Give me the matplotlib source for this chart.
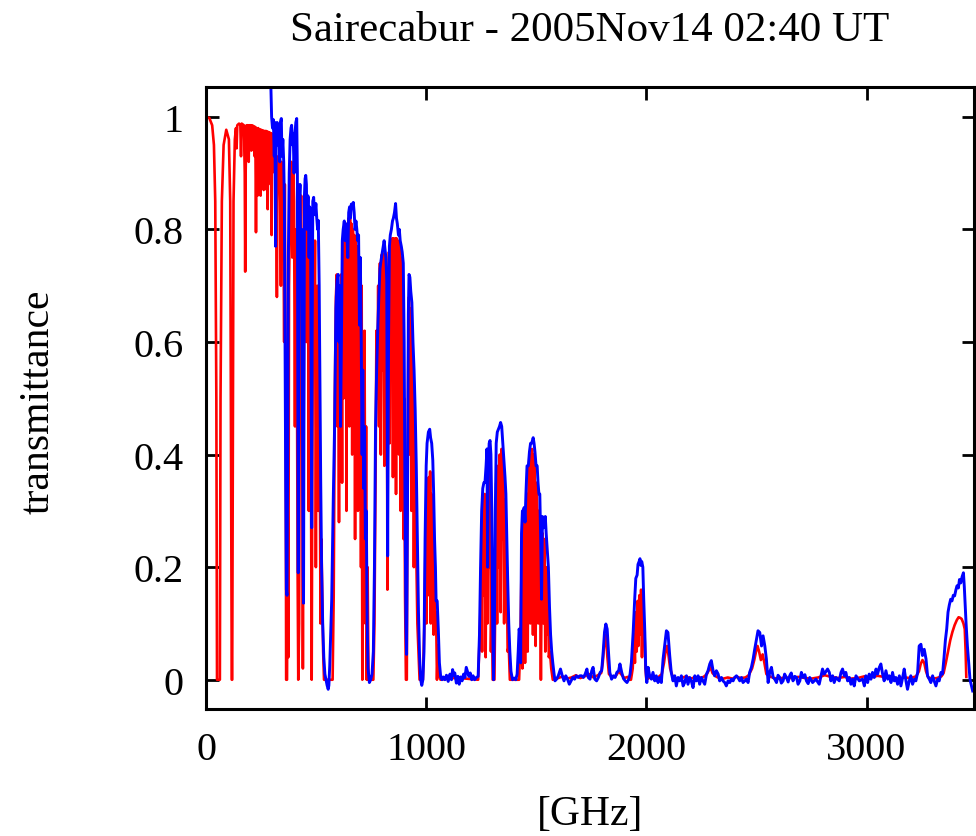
import matplotlib
matplotlib.use("Agg")
import matplotlib.pyplot as plt

plt.rcParams['font.family'] = ['Liberation Serif', 'DejaVu Serif']

# ATM model transmittance (red)
red_ghz = [0, 15, 28, 36, 42, 47, 50, 63, 66, 72, 80, 92, 104, 110, 115, 117, 119, 121, 125, 131,
           136, 139, 142, 150, 156, 159, 162, 172, 176, 178, 180, 184, 192, 194, 196, 203, 206, 209, 218, 221,
           224, 227, 230, 234, 237, 241, 244, 248, 251, 255, 258, 262, 265, 269, 272, 276, 278, 280, 283, 287,
           290, 294, 296, 298, 300, 305, 308, 313, 316, 320, 322, 324, 328,
           330, 336, 340, 343, 350, 355, 358, 362, 364, 368, 371, 374, 377, 382, 388, 392, 396, 400, 404, 407,
           412, 416, 419, 423, 427, 432, 436, 440, 444, 448, 452, 456, 459, 463, 467, 470, 474, 477, 480, 483,
           487, 491, 495, 499, 502, 506, 510, 513, 517, 520, 524, 528, 532, 536, 570,
           575, 580, 585, 590, 594, 597, 600, 604, 607, 611, 614, 618, 621, 625, 628, 632, 635, 638, 641, 645,
           648, 651, 654, 658, 661, 664, 667, 671, 674, 677, 680, 684, 687, 690, 693, 697, 700, 704, 707, 710,
           713, 717, 720, 724, 727, 730, 734, 738,
           760, 765, 770, 774, 778, 782, 786, 790, 794, 798, 802, 806, 810, 813, 817, 821, 824, 827, 831, 834,
           838, 842, 846, 849, 852, 856, 860, 863, 866, 870, 874, 877, 880, 884, 887, 891, 894, 897, 900, 904,
           908, 912, 915, 919, 922, 926, 929, 933, 936, 940, 944, 948, 952, 956, 960, 965, 970,
           985, 992, 997, 1001, 1005, 1008, 1012, 1015, 1018, 1021, 1024, 1027, 1030, 1034, 1037, 1041, 1045,
           1049, 1053, 1058, 1065, 1120, 1180,
           1236, 1245, 1250, 1254, 1258, 1262, 1266, 1270, 1274, 1278, 1282, 1286, 1290, 1294, 1298, 1302, 1310,
           1314, 1318, 1322, 1326, 1330, 1334, 1338, 1342, 1346, 1350, 1354, 1358, 1362, 1366, 1370, 1375, 1380,
           1422, 1428, 1433, 1437, 1441, 1445, 1449, 1453, 1457, 1461, 1465, 1469, 1473, 1477, 1481, 1485, 1489,
           1493, 1497, 1501, 1505, 1509, 1513, 1517, 1521, 1525, 1529, 1533, 1537, 1541, 1545, 1549, 1553, 1557,
           1562, 1568, 1575,
           1600, 1620, 1640, 1660, 1680, 1700, 1720, 1740, 1760, 1780, 1795, 1802, 1808, 1813, 1818, 1823, 1830,
           1845, 1860, 1875, 1885, 1900, 1915, 1925,
           1930, 1938, 1944, 1948, 1952, 1956, 1960, 1964, 1968, 1972, 1976, 1980, 1984, 1988, 1992, 1996, 2000,
           2015, 2030, 2050, 2070, 2080, 2087, 2094, 2100, 2108, 2120, 2140, 2160, 2180, 2200, 2220, 2240, 2260,
           2275, 2285, 2292, 2300, 2315, 2330, 2350, 2370, 2390, 2410, 2430, 2450, 2465, 2480, 2490, 2498, 2505,
           2512, 2520, 2528, 2536, 2545, 2560, 2580, 2600, 2630, 2660, 2690, 2720, 2750, 2780, 2810, 2840, 2870,
           2900, 2930, 2960, 2990, 3020, 3050, 3080, 3110, 3140, 3170, 3200, 3225, 3238, 3246, 3254, 3262, 3270,
           3280, 3300, 3320, 3340, 3350, 3360, 3370, 3380, 3390, 3400, 3410, 3418, 3425, 3432, 3440, 3446, 3450,
           3453]
red_tr = [1.0, 0.998, 0.985, 0.95, 0.85, 0.5, 0.0, 0.0, 0.5, 0.85, 0.95, 0.977, 0.96, 0.85, 0.2, 0.0, 0.0, 0.3, 0.85, 0.96,
          0.98, 0.944, 0.985, 0.988, 0.985, 0.93, 0.988, 0.985, 0.9, 0.725, 0.9, 0.985, 0.985, 0.92, 0.985, 0.985, 0.94, 0.985, 0.983, 0.93,
          0.982, 0.795, 0.98, 0.86, 0.98, 0.9, 0.978, 0.86, 0.977, 0.89, 0.976, 0.87, 0.975, 0.9, 0.975, 0.87, 0.974, 0.836, 0.973, 0.9,
          0.972, 0.88, 0.97, 0.79, 0.97, 0.92, 0.965, 0.9, 0.96, 0.8, 0.68, 0.85, 0.93,
          0.93, 0.9, 0.7, 0.92, 0.9, 0.6, 0.88, 0.5, 0.0, 0.0, 0.3, 0.04, 0.7, 0.85, 0.92, 0.75, 0.91, 0.85, 0.45, 0.8,
          0.7, 0.2, 0.0, 0.1, 0.75, 0.86, 0.6, 0.02, 0.5, 0.84, 0.87, 0.6, 0.83, 0.8, 0.3, 0.8, 0.82, 0.35, 0.0, 0.4,
          0.78, 0.6, 0.78, 0.2, 0.55, 0.7, 0.3, 0.5, 0.4, 0.1, 0.25, 0.15, 0.05, 0.0, 0.0,
          0.0, 0.15, 0.5, 0.68, 0.72, 0.45, 0.7, 0.28, 0.68, 0.55, 0.72, 0.35, 0.76, 0.5, 0.8, 0.62, 0.81, 0.3, 0.8, 0.55,
          0.82, 0.45, 0.82, 0.6, 0.81, 0.4, 0.8, 0.55, 0.79, 0.25, 0.78, 0.5, 0.77, 0.3, 0.76, 0.5, 0.74, 0.2, 0.7, 0.0,
          0.6, 0.5, 0.62, 0.1, 0.45, 0.0, 0.2, 0.0,
          0.0, 0.1, 0.35, 0.62, 0.5, 0.7, 0.45, 0.74, 0.4, 0.755, 0.55, 0.757, 0.38, 0.74, 0.6, 0.68, 0.16, 0.6, 0.76, 0.42,
          0.78, 0.55, 0.784, 0.36, 0.784, 0.6, 0.784, 0.33, 0.784, 0.55, 0.78, 0.4, 0.77, 0.3, 0.75, 0.5, 0.7, 0.25, 0.5, 0.15,
          0.0, 0.0, 0.35, 0.6, 0.68, 0.4, 0.66, 0.3, 0.6, 0.55, 0.2, 0.45, 0.3, 0.2, 0.1, 0.05, 0.0,
          0.0, 0.1, 0.25, 0.1, 0.3, 0.15, 0.36, 0.2, 0.37, 0.1, 0.33, 0.2, 0.28, 0.08, 0.2, 0.1, 0.12,
          0.0, 0.06, 0.01, 0.0, 0.003, 0.002,
          0.0, 0.1, 0.2, 0.05, 0.3, 0.15, 0.33, 0.04, 0.3, 0.1, 0.35, 0.2, 0.38, 0.05, 0.15, 0.0, 0.0,
          0.15, 0.35, 0.1, 0.38, 0.2, 0.4, 0.12, 0.41, 0.25, 0.39, 0.1, 0.32, 0.15, 0.2, 0.05, 0.06, 0.0,
          0.0, 0.07, 0.2, 0.02, 0.28, 0.3, 0.03, 0.2, 0.33, 0.05, 0.36, 0.4, 0.1, 0.38, 0.41, 0.08, 0.4,
          0.38, 0.06, 0.35, 0.3, 0.1, 0.3, 0.2, 0.0, 0.2, 0.26, 0.1, 0.25, 0.05, 0.2, 0.08, 0.15, 0.04,
          0.05, 0.02, 0.0,
          0.003, 0.006, 0.002, 0.004, 0.008, 0.003, 0.006, 0.01, 0.004, 0.008, 0.012, 0.03, 0.06, 0.08, 0.07, 0.04, 0.01,
          0.004, 0.006, 0.015, 0.01, 0.003, 0.005, 0.0,
          0.0, 0.02, 0.08, 0.03, 0.12, 0.05, 0.14, 0.06, 0.15, 0.08, 0.16, 0.04, 0.15, 0.1, 0.08, 0.02, 0.0,
          0.004, 0.002, 0.003, 0.01, 0.03, 0.05, 0.06, 0.045, 0.02, 0.005, 0.002, 0.003, 0.006, 0.002, 0.004, 0.003, 0.005,
          0.01, 0.018, 0.022, 0.012, 0.006, 0.003, 0.002, 0.004, 0.002, 0.005, 0.003, 0.004, 0.008, 0.02, 0.035, 0.05, 0.06,
          0.05, 0.035, 0.045, 0.03, 0.01, 0.006, 0.003, 0.002, 0.004, 0.003, 0.005, 0.003, 0.002, 0.004, 0.008, 0.005, 0.003,
          0.005, 0.002, 0.003, 0.006, 0.004, 0.007, 0.005, 0.003, 0.002, 0.004, 0.003, 0.006, 0.015, 0.028, 0.035, 0.03, 0.015,
          0.004, 0.002, 0.003, 0.006, 0.012, 0.03, 0.05, 0.07, 0.085, 0.097, 0.106, 0.111, 0.11, 0.108, 0.1, 0.09, 0.05,
          0.005]

# FTS measured transmittance (blue)
blue_ghz = [293, 298, 302, 306, 310, 313, 316, 319, 323, 327, 331, 335, 338, 342, 345, 349, 353, 356, 359, 362,
            365, 368, 371, 374, 378, 382, 386, 389, 393, 396, 400, 404, 408, 412, 415, 417, 419, 421, 424, 427,
            431, 435, 439, 441, 443, 445, 447, 450, 453, 456, 459, 462, 465, 468, 471, 475, 478, 480, 482, 485,
            489, 492, 495, 499, 503, 507, 510, 514, 517, 521, 525, 530, 535, 540, 545, 550, 555, 558, 562, 566,
            571, 578, 584, 590, 595, 600, 604, 607, 611, 615, 619, 623, 628, 632, 636, 640, 644, 648, 652, 656,
            660, 665, 669, 673, 677, 681, 685, 689, 693, 697, 701, 705, 709, 712, 716, 720, 724, 728, 732, 736,
            742, 748, 754, 760, 765, 770, 775, 780, 785, 790, 795, 800, 805, 809, 813, 817, 821, 825, 829, 833,
            837, 842, 847, 851, 856, 861, 865, 869, 874, 878, 882, 887, 891, 896, 900, 904, 908, 911, 915, 919,
            922, 926, 930, 935, 940, 945, 950, 955, 960, 965, 970, 975, 980, 985, 990, 995, 1000, 1004, 1010, 1016,
            1020, 1025, 1030, 1034, 1038, 1042, 1045, 1050, 1055, 1060, 1066, 1072,
            1077, 1085, 1092, 1100, 1108, 1115, 1120, 1125, 1130, 1137, 1144, 1150, 1157, 1163, 1170, 1176, 1182,
            1188, 1194, 1200, 1207, 1213, 1220, 1228,
            1236, 1242, 1247, 1252, 1257, 1262, 1267, 1272, 1276, 1279, 1282, 1286, 1290, 1294, 1298, 1302, 1306,
            1310, 1314, 1318, 1323, 1328, 1333, 1338, 1343, 1348, 1353, 1358, 1362, 1366, 1370, 1375, 1380, 1385,
            1392, 1400, 1407, 1413, 1418, 1422,
            1425, 1429, 1433, 1437, 1441, 1445, 1449, 1453, 1458, 1464, 1469, 1474, 1479, 1486, 1490, 1494, 1499,
            1504, 1508, 1512, 1516, 1520, 1524, 1528, 1533, 1537, 1541, 1545, 1550, 1555, 1560, 1565, 1570, 1575,
            1580, 1585,
            1592, 1600, 1610, 1618, 1626, 1634, 1642, 1650, 1658, 1666, 1674, 1682, 1690, 1698, 1706, 1714, 1722,
            1730, 1736, 1744, 1752, 1758, 1766, 1774, 1782, 1790, 1797, 1804, 1810, 1816, 1822, 1828, 1834, 1842,
            1850, 1858, 1866, 1874, 1880, 1888, 1896, 1904, 1912, 1920, 1926,
            1932, 1940, 1947, 1952, 1958, 1962, 1967, 1971, 1975, 1979, 1984, 1988, 1993, 1997, 2002, 2008, 2015,
            2023, 2030, 2038, 2045, 2053, 2060, 2068, 2076, 2083, 2091, 2098, 2106, 2113, 2121, 2129, 2136, 2144,
            2151, 2159, 2167, 2174, 2182, 2189, 2197, 2204, 2212, 2220, 2227, 2235, 2242, 2250, 2257, 2265, 2273,
            2280, 2288, 2295, 2303, 2310, 2318, 2326, 2333, 2341, 2348, 2356, 2363, 2371, 2379, 2386, 2394, 2401,
            2409, 2416, 2424, 2432, 2439, 2447, 2454, 2462, 2469, 2477, 2485, 2492, 2500, 2507, 2515, 2523, 2530,
            2538, 2545, 2553, 2560, 2568, 2576, 2583, 2591, 2598, 2606, 2613, 2621, 2628, 2636, 2644, 2651, 2658,
            2666, 2674, 2682, 2689, 2697, 2704, 2712, 2720, 2727, 2735, 2742,
            2755, 2770, 2785, 2800, 2808, 2823, 2831, 2838, 2846, 2853, 2861, 2876, 2884, 2891, 2899, 2906, 2914,
            2922, 2929, 2937, 2944, 2952, 2967, 2982, 2990, 2997, 3005, 3012, 3020, 3027, 3035, 3043, 3050, 3058,
            3065, 3073, 3080, 3088, 3096, 3103, 3111, 3118, 3126, 3133, 3141, 3149, 3156, 3164, 3171, 3179, 3186,
            3194, 3201, 3209, 3217, 3224, 3232, 3239, 3247, 3254, 3262, 3270, 3277, 3285, 3292, 3300, 3307, 3315,
            3323, 3330, 3338, 3345, 3352, 3358, 3364, 3370, 3376, 3382, 3388, 3394, 3400, 3406, 3411, 3417, 3422,
            3428, 3434, 3440, 3444, 3448, 3452, 3458, 3464, 3470, 3476, 3482]
blue_tr = [1.08, 1.0, 0.98, 0.995, 0.93, 0.99, 0.77, 0.97, 0.99, 0.95, 0.98, 0.92, 0.99, 0.997, 0.93, 0.96, 0.92, 0.85, 0.6, 0.35,
           0.16, 0.15, 0.4, 0.75, 0.9, 0.96, 0.98, 0.985, 0.95, 0.97, 0.9, 0.97, 0.99, 0.997, 0.9, 0.5, 0.19, 0.5, 0.85, 0.88,
           0.7, 0.8, 0.4, 0.2, 0.136, 0.5, 0.86, 0.89, 0.896, 0.88, 0.8, 0.86, 0.857, 0.75, 0.84, 0.8, 0.5, 0.27, 0.6, 0.85,
           0.857, 0.83, 0.826, 0.846, 0.82, 0.8, 0.816, 0.7, 0.55, 0.35, 0.2, 0.1, 0.04, 0.01, 0.0, -0.01, -0.017, -0.01, 0.025, 0.08,
           0.143, 0.32, 0.45, 0.66, 0.71, 0.72, 0.6, 0.7, 0.45, 0.6, 0.78, 0.8, 0.815, 0.78, 0.81, 0.79, 0.75, 0.83, 0.84, 0.82,
           0.845, 0.84, 0.848, 0.83, 0.8, 0.815, 0.8, 0.78, 0.79, 0.63, 0.75, 0.6, 0.4, 0.55, 0.34, 0.45, 0.25, 0.3, 0.1, 0.02,
           -0.005, 0.0, 0.01, 0.05, 0.2, 0.45, 0.55, 0.62, 0.68, 0.73, 0.745, 0.757, 0.77, 0.78, 0.765, 0.75, 0.71, 0.22, 0.6, 0.77,
           0.79, 0.8, 0.815, 0.82, 0.83, 0.846, 0.82, 0.81, 0.79, 0.8, 0.78, 0.77, 0.76, 0.74, 0.6, 0.3, 0.1, 0.045, 0.3, 0.65,
           0.72, 0.715, 0.69, 0.67, 0.6, 0.55, 0.48, 0.38, 0.25, 0.12, 0.04, 0.0, -0.01, 0.0, 0.05, 0.25, 0.38, 0.42, 0.44, 0.445,
           0.43, 0.42, 0.39, 0.33, 0.25, 0.2, 0.14, 0.14, 0.09, 0.03, 0.005, 0.0,
           0.005, 0.0, 0.008, -0.003, 0.01, 0.0, 0.018, 0.008, 0.012, -0.006, 0.006, -0.008, 0.005, -0.002, 0.01, 0.004, 0.022,
           0.014, 0.006, 0.012, 0.0, 0.007, 0.0, 0.004,
           0.006, 0.08, 0.2, 0.3, 0.34, 0.35, 0.35, 0.38, 0.41, 0.2, 0.38, 0.42, 0.425, 0.4, 0.3, 0.1, 0.0,
           0.1, 0.3, 0.42, 0.44, 0.445, 0.45, 0.457, 0.45, 0.42, 0.39, 0.36, 0.33, 0.25, 0.18, 0.1, 0.05, 0.015,
           0.0, 0.003, 0.0, 0.01, 0.05, 0.09,
           0.084, 0.03, 0.26, 0.3, 0.3, 0.306, 0.28, 0.33, 0.38, 0.38, 0.405, 0.42, 0.42, 0.43, 0.42, 0.405, 0.38,
           0.38, 0.35, 0.33, 0.33, 0.25, 0.143, 0.29, 0.27, 0.28, 0.29, 0.26, 0.23, 0.2, 0.13, 0.08, 0.05, 0.03,
           0.013, -0.002,
           0.001, 0.007, 0.019, 0.007, -0.002, 0.007, 0.001, -0.008, -0.002, 0.004, 0.001, 0.007, 0.004, 0.007, 0.007, 0.004, 0.01,
           0.019, 0.004, 0.001, 0.016, 0.022, 0.001, -0.002, 0.004, 0.013, 0.016, 0.05, 0.085, 0.099, 0.09, 0.049, 0.013, 0.001,
           0.007, 0.004, 0.013, 0.016, 0.028, 0.013, 0.002, -0.002, -0.005, 0.001, 0.01,
           0.031, 0.084, 0.143, 0.18, 0.186, 0.205, 0.21, 0.215, 0.203, 0.21, 0.2, 0.143, 0.084, 0.02, -0.005, 0.022, 0.007,
           0.001, 0.013, -0.002, 0.007, -0.005, 0.004, -0.005, 0.037, 0.06, 0.087, 0.084, 0.043, 0.013, -0.002, 0.007, -0.011, 0.004,
           -0.002, 0.007, -0.011, -0.005, 0.007, -0.008, 0.004, -0.002, -0.014, 0.007, -0.002, 0.007, -0.008, 0.004, -0.002, -0.008, 0.01,
           0.016, 0.028, 0.034, 0.016, 0.007, 0.016, 0.01, -0.002, 0.004, -0.002, -0.005, -0.011, -0.002, -0.005, 0.001, -0.002, 0.004,
           0.007, 0.004, -0.002, 0.004, -0.005, -0.002, 0.001, -0.005, 0.013, 0.022, 0.037, 0.054, 0.072, 0.087, 0.084, 0.06, 0.078,
           0.06, 0.037, -0.005, 0.013, 0.022, 0.004, 0.001, -0.005, 0.008, 0.004, -0.006, -0.002, 0.01, 0.004, -0.004, 0.007, 0.012,
           -0.002, 0.006, 0.004, -0.008, -0.002, 0.013, 0.004, 0.009, -0.002, -0.007, 0.004,
           -0.005, 0.001, -0.008, 0.019, 0.01, 0.019, 0.013, -0.002, 0.007, -0.005, 0.004, -0.002, 0.013, 0.019, 0.007, 0.013, -0.002,
           0.004, -0.008, 0.001, -0.011, 0.007, -0.002, 0.001, -0.011, 0.007, -0.005, 0.01, 0.001, 0.013, 0.004, 0.019, 0.01, 0.022,
           0.028, 0.01, -0.002, 0.016, 0.001, 0.007, -0.005, 0.013, -0.002, 0.004, -0.008, 0.007, -0.011, 0.004, 0.019, -0.002, -0.017,
           -0.002, 0.007, -0.008, 0.001, -0.002, 0.013, 0.06, 0.063, 0.043, 0.054, 0.037, 0.007, 0.001, -0.005, 0.007, -0.002, -0.011,
           0.001, -0.002, 0.013, 0.01, 0.04, 0.07, 0.09, 0.12, 0.133, 0.143, 0.14, 0.15, 0.149, 0.16, 0.167, 0.163, 0.178,
           0.172, 0.183, 0.19, 0.165, 0.131, 0.1, 0.06, 0.03, 0.0, -0.01, -0.02]

yticks = [0, 0.2, 0.4, 0.6, 0.8, 1]
ytick_labels = ['0', '0.2', '0.4', '0.6', '0.8', '1']
xticks = [0, 1000, 2000, 3000]

fig = plt.figure(figsize=(9.76, 8.37), dpi=100)
ax = fig.add_axes([206 / 976, 1 - 710 / 837, (974 - 206) / 976, (710 - 88) / 837])

ax.plot(red_ghz, red_tr, color='#ff0000', lw=1.9)
ax.plot(blue_ghz, blue_tr, color='#0000ff', lw=2.1)

ax.set_xlim(0, 3488)
ax.set_ylim(-0.052, 1.053)
ax.set_xticks(xticks)
ax.set_yticks(yticks)
ax.set_yticklabels(ytick_labels)
ax.tick_params(direction='in', length=9, width=2, top=True, right=True, labelsize=29, pad=16)
for s in ax.spines.values():
    s.set_linewidth(2.2)

fig.text(590 / 976, 1 - 31 / 837, 'Sairecabur - 2005Nov14 02:40 UT', ha='center', va='center', fontsize=31)
fig.text(590 / 976, 1 - 815 / 837, '[GHz]', ha='center', va='center', fontsize=30)
fig.text(38 / 976, 1 - 402 / 837, 'transmittance', ha='center', va='center', rotation=90, fontsize=30)

fig.savefig('out.png', dpi=100)
